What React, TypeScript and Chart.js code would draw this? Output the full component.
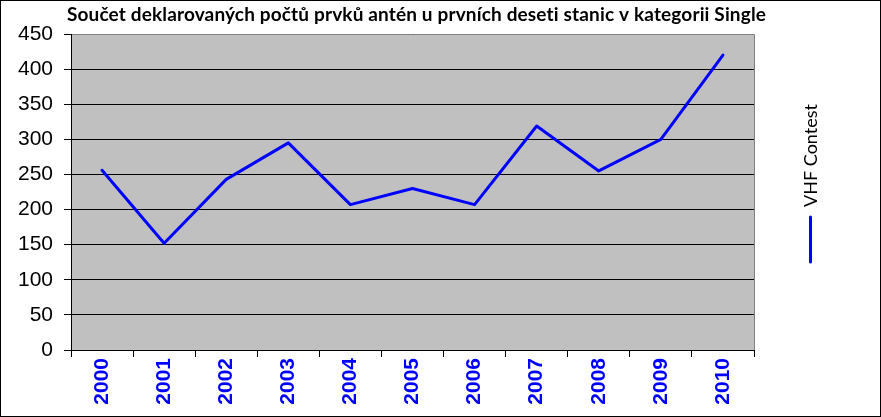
import React, { useEffect, useRef } from "react";
import { Chart, registerables } from "chart.js";

Chart.register(...registerables);

const chartTitle = "Součet deklarovaných počtů prvků antén u prvních deseti stanic v kategorii Single";
const years = ["2000", "2001", "2002", "2003", "2004", "2005", "2006", "2007", "2008", "2009", "2010"];
const seriesName = "VHF Contest";
const vhfContest = [256, 152, 243, 295, 207, 230, 207, 319, 255, 300, 420];
const yMin = 0;
const yMax = 450;
const yStep = 50;

export default function App() {
  const ref = useRef<HTMLCanvasElement>(null);

  useEffect(() => {
    const canvas = ref.current;
    if (!canvas) return;

    const framePlugin = {
      id: "frame",
      beforeDraw(chart: any) {
        const { ctx, width, height, chartArea: a } = chart;
        ctx.save();
        ctx.fillStyle = "#ffffff";
        ctx.fillRect(0, 0, width, height);
        ctx.fillStyle = "#c0c0c0";
        ctx.fillRect(a.left, a.top, a.right - a.left, a.bottom - a.top);
        ctx.restore();
      },
      afterDraw(chart: any) {
        const { ctx, width, height, chartArea: a } = chart;
        ctx.save();
        // gray top / right plot border
        ctx.strokeStyle = "#808080";
        ctx.lineWidth = 1;
        ctx.beginPath();
        const t = Math.round(a.top) + 0.5;
        const r = Math.round(a.right) + 0.5;
        ctx.moveTo(Math.round(a.left) + 1, t);
        ctx.lineTo(r, t);
        ctx.lineTo(r, Math.round(a.bottom));
        ctx.stroke();

        // title
        ctx.fillStyle = "#000000";
        ctx.font = "bold 19px Lato";
        try {
          (ctx as any).letterSpacing = "0.15px";
        } catch (e) {}
        ctx.textAlign = "center";
        ctx.textBaseline = "alphabetic";
        ctx.fillText(chartTitle, 416.5, 21);
        try {
          (ctx as any).letterSpacing = "0px";
        } catch (e) {}

        // legend
        const lx = a.right + 56.5;
        ctx.save();
        ctx.translate(lx + 6, 155.5);
        ctx.rotate(-Math.PI / 2);
        ctx.font = "18px Lato";
        ctx.textAlign = "center";
        ctx.fillText(seriesName, 0, 0);
        ctx.restore();
        ctx.strokeStyle = "#0000ff";
        ctx.lineWidth = 3;
        ctx.lineCap = "round";
        ctx.beginPath();
        ctx.moveTo(lx, 217);
        ctx.lineTo(lx, 262);
        ctx.stroke();

        // outer border
        ctx.strokeStyle = "#000000";
        ctx.lineWidth = 1;
        ctx.lineCap = "butt";
        ctx.strokeRect(0.5, 0.5, width - 1, height - 1);
        ctx.restore();
      },
    };

    const chart = new Chart(canvas, {
      type: "line",
      data: {
        labels: years,
        datasets: [
          {
            label: seriesName,
            data: vhfContest,
            borderColor: "#0000ff",
            backgroundColor: "#0000ff",
            borderWidth: 3,
            pointRadius: 0,
            tension: 0,
            borderJoinStyle: "round",
            borderCapStyle: "round",
          },
        ],
      },
      options: {
        animation: false,
        responsive: false,
        maintainAspectRatio: false,
        devicePixelRatio: 1,
        layout: { padding: { top: 34, right: 127, bottom: 0, left: 0 } },
        plugins: {
          legend: { display: false },
          tooltip: { enabled: false },
          title: { display: false },
        },
        scales: {
          x: {
            type: "category",
            offset: true,
            grid: {
              offset: true,
              drawOnChartArea: false,
              drawTicks: true,
              tickLength: 7,
              color: "#000000",
              lineWidth: 1,
            },
            border: { display: true, color: "#000000", width: 1 },
            ticks: {
              autoSkip: false,
              minRotation: 90,
              maxRotation: 90,
              padding: 1,
              color: "#0000ff",
              font: { family: "'Liberation Sans', Arial", size: 21, weight: "bold" },
            },
            afterFit(scale: any) {
              scale.height = 67;
            },
          },
          y: {
            min: yMin,
            max: yMax,
            grid: {
              color: "#000000",
              tickColor: "#000000",
              lineWidth: 1,
              tickLength: 7,
            },
            border: { display: true, color: "#000000", width: 1 },
            ticks: {
              stepSize: yStep,
              padding: 11,
              color: "#000000",
              font: { family: "'Liberation Sans', Arial", size: 21 },
            },
            afterFit(scale: any) {
              scale.width = 71;
            },
          },
        },
      },
      plugins: [framePlugin],
    } as any);

    return () => chart.destroy();
  }, []);

  return (
    <div style={{ position: "absolute", left: 0, top: 0, width: 881, height: 417 }}>
      <canvas ref={ref} width={881} height={417} style={{ display: "block", width: 881, height: 417 }} />
    </div>
  );
}
